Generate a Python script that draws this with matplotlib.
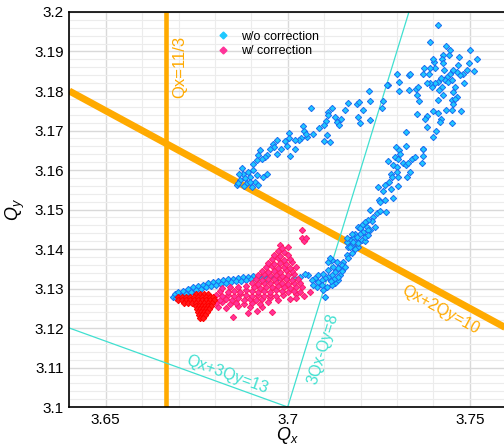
import numpy as np
import matplotlib
matplotlib.use("Agg")
import matplotlib.pyplot as plt
from matplotlib.ticker import MultipleLocator
from matplotlib.lines import Line2D

plt.rcParams['font.family'] = ['Liberation Sans', 'DejaVu Sans']
plt.rcParams['mathtext.fontset'] = 'custom'
plt.rcParams['mathtext.it'] = 'Liberation Sans:italic'
plt.rcParams['mathtext.rm'] = 'Liberation Sans'

# tune points without correction (blue)
blue_upper = [
    (3.7224, 3.1800), (3.7063, 3.1757), (3.7167, 3.1770), (3.7191, 3.1768), (3.7197, 3.1772),
    (3.7208, 3.1753), (3.7192, 3.1733), (3.7199, 3.1718), (3.7122, 3.1757), (3.7112, 3.1747),
    (3.7110, 3.1739), (3.7158, 3.1751), (3.7147, 3.1730), (3.7131, 3.1734), (3.7135, 3.1722),
    (3.7140, 3.1713), (3.7105, 3.1723), (3.7100, 3.1715), (3.7085, 3.1707), (3.7069, 3.1690),
    (3.7054, 3.1684), (3.7041, 3.1711), (3.7045, 3.1698), (3.7050, 3.1692), (3.7107, 3.1688),
    (3.7100, 3.1673), (3.7116, 3.1670), (3.7037, 3.1680), (3.7032, 3.1675), (3.7019, 3.1675),
    (3.7004, 3.1694), (3.7003, 3.1682), (3.6993, 3.1673), (3.6997, 3.1662), (3.7020, 3.1652),
    (3.7006, 3.1635), (3.6982, 3.1652), (3.6971, 3.1675), (3.6960, 3.1667), (3.6963, 3.1657),
    (3.6951, 3.1654), (3.6971, 3.1640), (3.6944, 3.1639), (3.6938, 3.1633), (3.6924, 3.1650),
    (3.6919, 3.1637), (3.6929, 3.1627), (3.6915, 3.1625), (3.6905, 3.1614), (3.6942, 3.1591),
    (3.6933, 3.1583), (3.6874, 3.1604), (3.6878, 3.1591), (3.6869, 3.1574), (3.6860, 3.1562),
    (3.6887, 3.1566), (3.6901, 3.1557), (3.6910, 3.1570), (3.6915, 3.1587), (3.6905, 3.1600),
    (3.6896, 3.1583), (3.6919, 3.1562), (3.6883, 3.1579), (3.6866, 3.1590), (3.6892, 3.1595),
    (3.6864, 3.1568), (3.6896, 3.1570), (3.6880, 3.1560),
]
blue_top = [
    (3.7414, 3.1966), (3.7391, 3.1924), (3.7435, 3.1913), (3.7446, 3.1903), (3.7442, 3.1890),
    (3.7426, 3.1890), (3.7423, 3.1882), (3.7471, 3.1886), (3.7469, 3.1867), (3.7501, 3.1903),
    (3.7519, 3.1882), (3.7499, 3.1872), (3.7512, 3.1850), (3.7492, 3.1853), (3.7482, 3.1844),
    (3.7473, 3.1840), (3.7466, 3.1848), (3.7455, 3.1854), (3.7446, 3.1844), (3.7438, 3.1836),
    (3.7432, 3.1827), (3.7441, 3.1823), (3.7451, 3.1827), (3.7429, 3.1853), (3.7426, 3.1870),
    (3.7402, 3.1874), (3.7398, 3.1882), (3.7405, 3.1859), (3.7391, 3.1859), (3.7375, 3.1857),
    (3.7371, 3.1842), (3.7388, 3.1844), (3.7420, 3.1832), (3.7414, 3.1823), (3.7405, 3.1819),
    (3.7396, 3.1810), (3.7391, 3.1819), (3.7382, 3.1820), (3.7423, 3.1810), (3.7416, 3.1802),
    (3.7427, 3.1789), (3.7414, 3.1777), (3.7460, 3.1809), (3.7455, 3.1798), (3.7464, 3.1785),
    (3.7451, 3.1777), (3.7460, 3.1781), (3.7455, 3.1768), (3.7485, 3.1820), (3.7475, 3.1749),
    (3.7451, 3.1753), (3.7435, 3.1751), (3.7451, 3.1719), (3.7421, 3.1728), (3.7418, 3.1722),
    (3.7414, 3.1745), (3.7398, 3.1749), (3.7384, 3.1736), (3.7377, 3.1728), (3.7382, 3.1709),
    (3.7407, 3.1698), (3.7400, 3.1684), (3.7356, 3.1743), (3.7362, 3.1775), (3.7354, 3.1791),
    (3.7352, 3.1804), (3.7357, 3.1809), (3.7332, 3.1802), (3.7333, 3.1840), (3.7336, 3.1842),
    (3.7305, 3.1799), (3.7305, 3.1823), (3.7301, 3.1844), (3.7276, 3.1816), (3.7272, 3.1815),
    (3.7263, 3.1774), (3.7260, 3.1756), (3.7226, 3.1726), (3.7226, 3.1774),
]
blue_lower = [
    (3.7325, 3.1695), (3.7325, 3.1661), (3.7298, 3.1659), (3.7373, 3.1654), (3.7307, 3.1650),
    (3.7309, 3.1640), (3.7295, 3.1633), (3.7304, 3.1627), (3.7276, 3.1622), (3.7290, 3.1612),
    (3.7301, 3.1608), (3.7318, 3.1617), (3.7325, 3.1612), (3.7331, 3.1618), (3.7341, 3.1627),
    (3.7350, 3.1633), (3.7371, 3.1653), (3.7373, 3.1635), (3.7368, 3.1617), (3.7336, 3.1595),
    (3.7329, 3.1583), (3.7299, 3.1595), (3.7283, 3.1591), (3.7286, 3.1583), (3.7304, 3.1583),
    (3.7279, 3.1570), (3.7249, 3.1557), (3.7267, 3.1562), (3.7261, 3.1547), (3.7283, 3.1553),
    (3.7288, 3.1530), (3.7304, 3.1559), (3.7267, 3.1525), (3.7252, 3.1524), (3.7254, 3.1519),
    (3.7226, 3.1500), (3.7246, 3.1490), (3.7254, 3.1497), (3.7270, 3.1493), (3.7235, 3.1481),
    (3.7231, 3.1471), (3.7221, 3.1473), (3.7212, 3.1469), (3.7203, 3.1460), (3.7194, 3.1456),
    (3.7217, 3.1456), (3.7226, 3.1448), (3.7240, 3.1456), (3.7208, 3.1443), (3.7199, 3.1439),
    (3.7185, 3.1439), (3.7180, 3.1427), (3.7171, 3.1422), (3.7190, 3.1418), (3.7176, 3.1410),
    (3.7167, 3.1406), (3.7203, 3.1422), (3.7212, 3.1421), (3.7194, 3.1406), (3.7162, 3.1418),
    (3.7221, 3.1448), (3.7212, 3.1431), (3.7190, 3.1431), (3.7180, 3.1418), (3.7194, 3.1414),
    (3.7171, 3.1406), (3.7185, 3.1401), (3.7176, 3.1389), (3.7162, 3.1385), (3.7167, 3.1376),
    (3.7153, 3.1368), (3.7148, 3.1359), (3.7157, 3.1355), (3.7139, 3.1351), (3.7130, 3.1342),
    (3.7121, 3.1334), (3.7112, 3.1330), (3.7102, 3.1326), (3.7093, 3.1321), (3.7084, 3.1317),
    (3.7075, 3.1326), (3.7066, 3.1321), (3.7057, 3.1334), (3.7048, 3.1338), (3.7084, 3.1334),
    (3.7098, 3.1338), (3.7112, 3.1347), (3.7125, 3.1355), (3.7135, 3.1368), (3.7121, 3.1372),
    (3.7112, 3.1368), (3.7144, 3.1334), (3.7139, 3.1321), (3.7130, 3.1313), (3.7121, 3.1309),
    (3.7107, 3.1304), (3.7098, 3.1296), (3.7093, 3.1309), (3.7080, 3.1304), (3.7070, 3.1309),
    (3.7102, 3.1279), (3.7116, 3.1376), (3.7221, 3.1435), (3.7162, 3.1427), (3.7176, 3.1439),
    (3.7199, 3.1452), (3.7148, 3.1345), (3.7138, 3.1330), (3.7128, 3.1325), (3.7118, 3.1318),
]
blue_arc = [
    (3.6686, 3.1279), (3.6690, 3.1285), (3.6699, 3.1290), (3.6713, 3.1294), (3.6727, 3.1299),
    (3.6741, 3.1303), (3.6754, 3.1307), (3.6768, 3.1310), (3.6782, 3.1313), (3.6796, 3.1317),
    (3.6809, 3.1320), (3.6823, 3.1321), (3.6837, 3.1323), (3.6851, 3.1325), (3.6864, 3.1326),
    (3.6878, 3.1328), (3.6892, 3.1330), (3.6905, 3.1331), (3.6919, 3.1332), (3.6933, 3.1332),
    (3.6951, 3.1331), (3.6973, 3.1329), (3.6995, 3.1326), (3.7017, 3.1326), (3.7034, 3.1329),
    (3.6694, 3.1276), (3.6706, 3.1282), (3.6720, 3.1287), (3.6734, 3.1292), (3.6748, 3.1296),
    (3.6761, 3.1300), (3.6775, 3.1303), (3.6789, 3.1306), (3.6803, 3.1309), (3.6816, 3.1312),
    (3.6830, 3.1314), (3.6844, 3.1316), (3.6858, 3.1318), (3.6871, 3.1320), (3.6885, 3.1321),
    (3.6899, 3.1323), (3.6912, 3.1324), (3.6926, 3.1325), (3.6940, 3.1325),
]

# with correction: pink cloud + dense red core
pink_pts = [
    (3.6809, 3.1253), (3.6831, 3.1251), (3.6863, 3.1255), (3.6896, 3.1252), (3.6929, 3.1254),
    (3.6803, 3.1263), (3.6820, 3.1265), (3.6841, 3.1262), (3.6858, 3.1264), (3.6880, 3.1261),
    (3.6902, 3.1264), (3.6924, 3.1262), (3.6946, 3.1265),
    (3.6798, 3.1273), (3.6814, 3.1271), (3.6831, 3.1274), (3.6847, 3.1272), (3.6863, 3.1275),
    (3.6880, 3.1272), (3.6896, 3.1274), (3.6913, 3.1271), (3.6929, 3.1273), (3.6951, 3.1275),
    (3.6973, 3.1272), (3.7006, 3.1274),
    (3.6803, 3.1283), (3.6820, 3.1281), (3.6836, 3.1284), (3.6852, 3.1282), (3.6869, 3.1285),
    (3.6885, 3.1283), (3.6902, 3.1281), (3.6918, 3.1284), (3.6935, 3.1282), (3.6951, 3.1284),
    (3.6968, 3.1281), (3.6987, 3.1283), (3.7023, 3.1285),
    (3.6814, 3.1293), (3.6836, 3.1291), (3.6852, 3.1294), (3.6869, 3.1292), (3.6885, 3.1295),
    (3.6902, 3.1293), (3.6918, 3.1291), (3.6935, 3.1294), (3.6951, 3.1292), (3.6968, 3.1295),
    (3.6984, 3.1293), (3.7001, 3.1291), (3.7017, 3.1294), (3.7034, 3.1292),
    (3.6820, 3.1302), (3.6841, 3.1305), (3.6863, 3.1303), (3.6885, 3.1306), (3.6907, 3.1304),
    (3.6924, 3.1302), (3.6940, 3.1305), (3.6957, 3.1303), (3.6973, 3.1306), (3.6990, 3.1304),
    (3.7006, 3.1302), (3.7023, 3.1305), (3.7039, 3.1303),
    (3.6902, 3.1314), (3.6918, 3.1312), (3.6935, 3.1315), (3.6951, 3.1313), (3.6968, 3.1316),
    (3.6984, 3.1314), (3.7001, 3.1312), (3.7017, 3.1315), (3.7034, 3.1313),
    (3.6913, 3.1324), (3.6929, 3.1322), (3.6946, 3.1325), (3.6962, 3.1323), (3.6979, 3.1326),
    (3.6995, 3.1324), (3.7012, 3.1322), (3.7028, 3.1325),
    (3.6918, 3.1334), (3.6935, 3.1336), (3.6951, 3.1333), (3.6968, 3.1335), (3.6984, 3.1332),
    (3.7001, 3.1334), (3.7017, 3.1336),
    (3.6929, 3.1344), (3.6946, 3.1342), (3.6962, 3.1345), (3.6979, 3.1343), (3.6995, 3.1346),
    (3.7012, 3.1344),
    (3.6940, 3.1354), (3.6957, 3.1356), (3.6973, 3.1353), (3.6990, 3.1355), (3.7006, 3.1352),
    (3.7023, 3.1355),
    (3.6946, 3.1364), (3.6962, 3.1362), (3.6979, 3.1365), (3.6995, 3.1363), (3.7012, 3.1366),
    (3.6957, 3.1374), (3.6973, 3.1376), (3.6990, 3.1373), (3.7006, 3.1375),
    (3.6962, 3.1385), (3.6979, 3.1383), (3.7001, 3.1386),
    (3.6973, 3.1395), (3.6990, 3.1393),
    (3.6979, 3.1410), (3.6984, 3.1402), (3.7039, 3.1428), (3.7045, 3.1420), (3.7050, 3.1428),
    (3.7039, 3.1448), (3.7001, 3.1405), (3.6849, 3.1228), (3.6957, 3.1240), (3.7023, 3.1276),
    (3.6891, 3.1238), (3.6915, 3.1243), (3.7045, 3.1281), (3.7061, 3.1291),
]
red_core = [
    (3.6748, 3.1286), (3.6759, 3.1286), (3.6770, 3.1286), (3.6781, 3.1286),
    (3.6699, 3.1278), (3.6710, 3.1278), (3.6721, 3.1278), (3.6732, 3.1278), (3.6743, 3.1278),
    (3.6754, 3.1278), (3.6765, 3.1278), (3.6776, 3.1278), (3.6787, 3.1278), (3.6795, 3.1278),
    (3.6699, 3.1271), (3.6710, 3.1271), (3.6721, 3.1271), (3.6732, 3.1271), (3.6743, 3.1271),
    (3.6754, 3.1271), (3.6765, 3.1271), (3.6776, 3.1271), (3.6787, 3.1271), (3.6798, 3.1271),
    (3.6715, 3.1263), (3.6726, 3.1263), (3.6737, 3.1263), (3.6748, 3.1263), (3.6759, 3.1263),
    (3.6770, 3.1263), (3.6781, 3.1263), (3.6792, 3.1263),
    (3.6748, 3.1256), (3.6756, 3.1256), (3.6765, 3.1256), (3.6773, 3.1256), (3.6781, 3.1256),
    (3.6789, 3.1256),
    (3.6751, 3.1248), (3.6759, 3.1248), (3.6767, 3.1248), (3.6776, 3.1248), (3.6784, 3.1248),
    (3.6754, 3.1240), (3.6762, 3.1240), (3.6770, 3.1240), (3.6778, 3.1240),
    (3.6756, 3.1233), (3.6765, 3.1233), (3.6773, 3.1233),
    (3.6759, 3.1225), (3.6767, 3.1225),
]

# resonance lines (end points)
res_11_3 = ([11 / 3, 11 / 3], [3.1, 3.2])
res_2qy = ([3.64, 3.76], [3.18, 3.12])
res_3qx = ([3.7, 3.7333], [3.1, 3.2])
res_3qy = ([3.64, 3.7], [3.12, 3.1])

orange = '#ffaa00'
turq = '#40e0d0'

fig = plt.figure(figsize=(5.04, 4.46), dpi=100)
ax = fig.add_axes([0.1375, 0.0874, 0.8667, 0.8857])

ax.plot(*res_11_3, color=orange, lw=3.3, solid_capstyle='butt', zorder=2)
ax.plot(*res_2qy, color=orange, lw=5, solid_capstyle='butt', zorder=2)
ax.plot(*res_3qx, color=turq, lw=0.9, zorder=2)
ax.plot(*res_3qy, color=turq, lw=0.9, zorder=2)


def draw(pts, fc, ec, label=None):
    xs = [p[0] for p in pts]
    ys = [p[1] for p in pts]
    ax.plot(xs, ys, ls='none', marker='D', ms=3.2, mfc=fc, mec=ec, mew=0.7,
            label=label, zorder=3)


draw(blue_upper + blue_top + blue_lower + blue_arc, '#1ec8ff', '#1a6cf0')
draw(pink_pts, '#ff3399', '#ff1a66')
draw(red_core, '#ff1a1a', '#ff0000')

ax.text(3.6704, 3.186, 'Qx=11/3', color=orange, fontsize=12, rotation=90,
        ha='center', va='center', rotation_mode='anchor')
ax.text(3.7421, 3.1246, 'Qx+2Qy=10', color=orange, fontsize=11.5, rotation=-28.5,
        ha='center', va='center', rotation_mode='anchor')
ax.text(3.7096, 3.1148, '3Qx-Qy=8', color=turq, fontsize=11.5, rotation=72.9,
        ha='center', va='center', rotation_mode='anchor')
ax.text(3.6835, 3.1082, 'Qx+3Qy=13', color=turq, fontsize=11.5, rotation=-19.9,
        ha='center', va='center', rotation_mode='anchor')

ax.set_xlim(3.64, 3.76)
ax.set_ylim(3.1, 3.2)
ax.xaxis.set_major_locator(MultipleLocator(0.05))
ax.xaxis.set_minor_locator(MultipleLocator(0.01))
ax.yaxis.set_major_locator(MultipleLocator(0.01))
ax.yaxis.set_minor_locator(MultipleLocator(0.002))
ax.xaxis.set_major_formatter(plt.FuncFormatter(lambda v, p: f'{v:g}'))
ax.yaxis.set_major_formatter(plt.FuncFormatter(lambda v, p: f'{v:g}'))
ax.grid(which='major', color='#d9d9d9', lw=1)
ax.grid(which='minor', color='#ececec', lw=0.8)
ax.set_axisbelow(True)
ax.tick_params(which='both', length=0, labelsize=11, pad=4)
for s in ax.spines.values():
    s.set_linewidth(1.2)

ax.set_xlabel('$Q_x$', fontsize=13, labelpad=-1)
ax.set_ylabel('$Q_y$', fontsize=13, labelpad=5)

handles = [
    Line2D([], [], ls='none', marker='D', ms=3.5, mfc='#1ec8ff', mec='#1ec8ff'),
    Line2D([], [], ls='none', marker='D', ms=3.5, mfc='#ff3399', mec='#ff3399'),
]
ax.legend(handles, ['w/o correction', 'w/ correction'], loc='upper left',
          bbox_to_anchor=(0.322, 0.965), frameon=False, fontsize=9,
          handlelength=1.3, handletextpad=0.8, labelspacing=0.2, borderaxespad=0)

fig.savefig('out.png', dpi=100)
